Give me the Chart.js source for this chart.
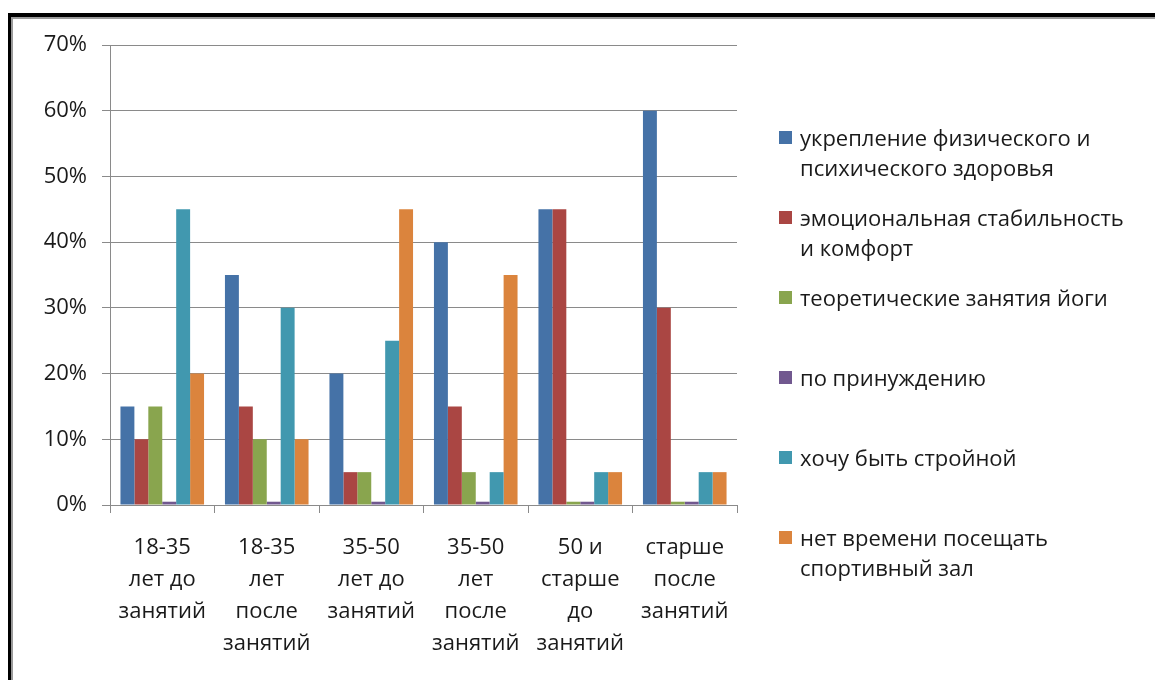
<!DOCTYPE html>
<html lang="ru">
<head>
<meta charset="utf-8">
<title>Мотивы занятий йогой</title>
<script src="https://cdn.jsdelivr.net/npm/chart.js@4.4.1/dist/chart.umd.min.js"></script>
<style>
  html, body { margin: 0; padding: 0; background: #fff; }
  #wrap { position: relative; width: 1155px; height: 680px; overflow: hidden; }
  #frame {
    position: absolute; left: 8px; top: 13px; width: 1200px; height: 720px;
    border-top: 4px solid #000; border-left: 3px solid #000;
    box-shadow: inset 2px 2px 0 #9a9a9a;
  }
  #chart { position: absolute; left: 0; top: 0; }
  #legend {
    position: absolute; left: 779px; top: 122px; margin: 0; padding: 0; list-style: none;
    font-family: "Open Sans", sans-serif; font-size: 22px; color: #1a1a1a;
  }
  #legend li { display: flex; align-items: flex-start; height: 80px; }
  #legend .box { width: 13px; height: 13px; margin-top: 9px; margin-right: 8px; flex: none; }
  #legend .txt { line-height: 30px; width: 345px; white-space: nowrap; }
</style>
</head>
<body>
<div id="wrap">
  <div id="frame"></div>
  <canvas id="chart" width="1155" height="680"></canvas>
  <ul id="legend"></ul>
</div>
<script>
// Age groups, before and after the classes
const categories = [
  ["18-35", "лет до", "занятий"],
  ["18-35", "лет", "после", "занятий"],
  ["35-50", "лет до", "занятий"],
  ["35-50", "лет", "после", "занятий"],
  ["50 и", "старше", "до", "занятий"],
  ["старше", "после", "занятий"]
];

// Series names, one array entry per legend line
const seriesNames = [
  ["укрепление физического и", "психического здоровья"],
  ["эмоциональная стабильность", "и комфорт"],
  ["теоретические занятия йоги"],
  ["по принуждению"],
  ["хочу быть стройной"],
  ["нет времени  посещать", "спортивный зал"]
];

// Share of answers, %
const health    = [15, 35, 20, 40, 45, 60];
const emotion   = [10, 15, 5, 15, 45, 30];
const theory    = [15, 10, 5, 5, 0.5, 0.5];
const forced    = [0.5, 0.5, 0.5, 0.5, 0.5, 0.5];
const slim      = [45, 30, 25, 5, 5, 5];
const noTime    = [20, 10, 45, 35, 5, 5];

const yTicks = [0, 10, 20, 30, 40, 50, 60, 70];

const colors = ["#4572A7", "#AA4643", "#89A54E", "#71588F", "#4198AF", "#DB843D"];
const seriesValues = [health, emotion, theory, forced, slim, noTime];

const FONT = "'Open Sans', sans-serif";
const TEXT = "#1a1a1a";
const GRID = "#8a8a8a";

const datasets = seriesValues.map((vals, i) => ({
  label: seriesNames[i].join(" "),
  data: vals,
  backgroundColor: colors[i],
  borderWidth: 0,
  barPercentage: 1.0,
  categoryPercentage: 0.8
}));

new Chart(document.getElementById("chart"), {
  type: "bar",
  data: { labels: categories, datasets },
  options: {
    responsive: false,
    animation: false,
    devicePixelRatio: 1,
    layout: { padding: { left: 10, right: 418, top: 45, bottom: 0 } },
    plugins: { legend: { display: false }, tooltip: { enabled: false } },
    scales: {
      x: {
        afterFit: s => { s.height = 175; },
        grid: {
          display: true, drawOnChartArea: false, drawTicks: true,
          tickLength: 8, color: GRID, offset: true
        },
        border: { color: GRID, width: 1 },
        ticks: {
          color: TEXT, padding: 19, maxRotation: 0, autoSkip: false,
          font: { family: FONT, size: 22, lineHeight: 1.455 }
        }
      },
      y: {
        min: 0, max: 70,
        afterFit: s => { s.width = 100; },
        afterBuildTicks: s => { s.ticks = yTicks.map(v => ({ value: v })); },
        grid: { color: GRID, tickLength: 8, drawTicks: true },
        border: { color: GRID, width: 1 },
        ticks: {
          color: TEXT, padding: 15, stepSize: 10,
          font: { family: FONT, size: 22 },
          callback: v => v + "%"
        }
      }
    }
  }
});

// Legend: coloured square and the series name on one or two lines
const legend = document.getElementById("legend");
seriesNames.forEach((lines, i) => {
  const li = document.createElement("li");
  const box = document.createElement("span");
  box.className = "box";
  box.style.background = colors[i];
  const txt = document.createElement("span");
  txt.className = "txt";
  lines.forEach((line, k) => {
    if (k) txt.appendChild(document.createElement("br"));
    txt.appendChild(document.createTextNode(line));
  });
  li.appendChild(box);
  li.appendChild(txt);
  legend.appendChild(li);
});
</script>
</body>
</html>
